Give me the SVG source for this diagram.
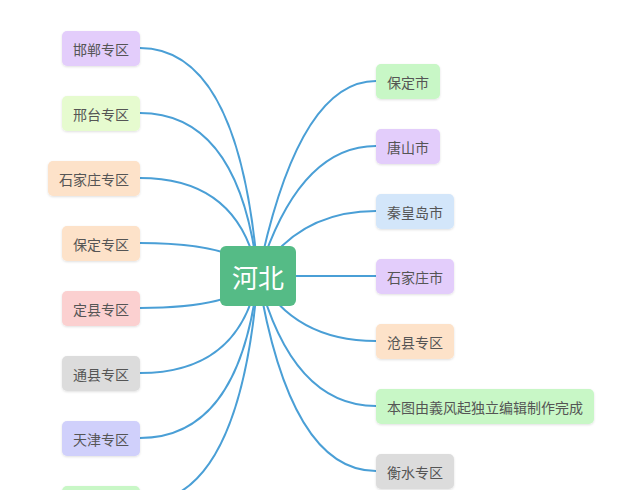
<svg xmlns="http://www.w3.org/2000/svg" width="635" height="500" viewBox="0 0 635 500">
<defs>
<clipPath id="crop"><rect x="0" y="0" width="635" height="490"/></clipPath>
<filter id="sh" x="-10%" y="-10%" width="120%" height="130%">
<feDropShadow dx="0" dy="1" stdDeviation="0.8" flood-color="#000" flood-opacity="0.12"/>
</filter>
</defs>
<style>
.link{fill:none;stroke:#4a9fd6;stroke-width:2}
.box{filter:url(#sh)}
.t{font-family:"Noto Sans CJK SC","Noto Sans",sans-serif;font-size:14px;fill:#555;text-anchor:middle;dominant-baseline:central}
.c{font-family:"Noto Sans CJK SC","Noto Sans",sans-serif;font-size:26px;fill:#fff;text-anchor:middle;dominant-baseline:central}
.purple{fill:#e3cdfb}.lime{fill:#e6fbcf}.peach{fill:#fde2c9}.pink{fill:#fbd0d0}.gray{fill:#dcdcdc}.blue{fill:#d0d0fb}.green{fill:#c8f7c6}.sky{fill:#d3e6fa}
</style>
<rect x="0" y="0" width="635" height="500" fill="#fff"/>
<g clip-path="url(#crop)">
<g id="connectors">
<path class="link" d="M258,276 Q240,48 140,48"/>
<path class="link" d="M258,276 Q240,113 140,113"/>
<path class="link" d="M258,276 Q240,178 140,178"/>
<path class="link" d="M258,276 Q240,243 140,243"/>
<path class="link" d="M258,276 Q240,308 140,308"/>
<path class="link" d="M258,276 Q240,373 140,373"/>
<path class="link" d="M258,276 Q240,438 140,438"/>
<path class="link" d="M258,276 Q240,503 140,503"/>
<path class="link" d="M258,276 Q298,81 376,81"/>
<path class="link" d="M258,276 Q298,146 376,146"/>
<path class="link" d="M258,276 Q298,211 376,211"/>
<path class="link" d="M258,276 L376,276"/>
<path class="link" d="M258,276 Q294,341 376,341"/>
<path class="link" d="M258,276 Q292,406 376,406"/>
<path class="link" d="M258,276 Q290,471 376,471"/>
</g>
<g id="n-hebei"><rect x="220" y="246" width="76" height="60" rx="6" fill="#55bb86"/><text class="c" x="258" y="276">河北</text></g>
<g id="n-handan"><rect class="box purple" x="62" y="31" width="78" height="35" rx="5"/><text class="t" x="101" y="48.5">邯郸专区</text></g>
<g id="n-xingtai"><rect class="box lime" x="62" y="96" width="78" height="35" rx="5"/><text class="t" x="101" y="113.5">邢台专区</text></g>
<g id="n-sjzzq"><rect class="box peach" x="48" y="161" width="92" height="35" rx="5"/><text class="t" x="94" y="178.5">石家庄专区</text></g>
<g id="n-bdzq"><rect class="box peach" x="62" y="226" width="78" height="35" rx="5"/><text class="t" x="101" y="243.5">保定专区</text></g>
<g id="n-dingxian"><rect class="box pink" x="62" y="291" width="78" height="35" rx="5"/><text class="t" x="101" y="308.5">定县专区</text></g>
<g id="n-tongxian"><rect class="box gray" x="62" y="356" width="78" height="35" rx="5"/><text class="t" x="101" y="373.5">通县专区</text></g>
<g id="n-tianjin"><rect class="box blue" x="62" y="421" width="78" height="35" rx="5"/><text class="t" x="101" y="438.5">天津专区</text></g>
<g id="n-left8"><rect class="box green" x="62" y="486" width="78" height="35" rx="5"/></g>
<g id="n-baoding"><rect class="box green" x="376" y="64" width="64" height="35" rx="5"/><text class="t" x="408" y="81.5">保定市</text></g>
<g id="n-tangshan"><rect class="box purple" x="376" y="129" width="64" height="35" rx="5"/><text class="t" x="408" y="146.5">唐山市</text></g>
<g id="n-qhd"><rect class="box sky" x="376" y="194" width="78" height="35" rx="5"/><text class="t" x="415" y="211.5">秦皇岛市</text></g>
<g id="n-sjz"><rect class="box purple" x="376" y="259" width="78" height="35" rx="5"/><text class="t" x="415" y="276.5">石家庄市</text></g>
<g id="n-cangxian"><rect class="box peach" x="376" y="324" width="78" height="35" rx="5"/><text class="t" x="415" y="341.5">沧县专区</text></g>
<g id="n-note"><rect class="box green" x="376" y="389" width="218" height="35" rx="5"/><text class="t" x="485" y="406.5">本图由義风起独立编辑制作完成</text></g>
<g id="n-hengshui"><rect class="box gray" x="376" y="454" width="78" height="35" rx="5"/><text class="t" x="415" y="471.5">衡水专区</text></g>
</g>
</svg>
